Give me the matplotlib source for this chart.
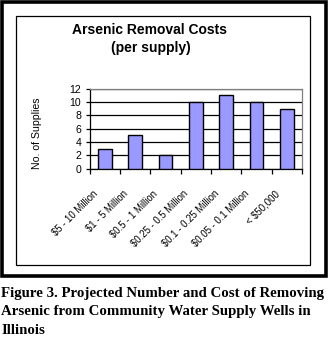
import matplotlib
matplotlib.use("Agg")
import matplotlib.pyplot as plt
from matplotlib.patches import Rectangle
from matplotlib.transforms import ScaledTranslation

categories = ["$5 - 10 Million", "$1 - 5 Million", "$0.5 - 1 Million",
              "$0.25 - 0.5 Million", "$0.1 - 0.25 Million",
              "$0.05 - 0.1 Million", "< $50,000"]
values = [3, 5, 2, 10, 11, 10, 9]
yticks = [0, 2, 4, 6, 8, 10, 12]
title_lines = ["Arsenic Removal Costs", "(per supply)"]
ylabel = "No. of Supplies"
caption_lines = ["Figure 3. Projected Number and Cost of Removing",
                 "Arsenic from Community Water Supply Wells in",
                 "Illinois"]

W, H = 328, 339
DPI = 100
fig = plt.figure(figsize=(W / DPI, H / DPI), dpi=DPI)
fig.patch.set_facecolor("white")

def fx(px):
    return px / W

def fy(py):
    return 1 - py / H

# outer frame (black, thick)
fig.add_artist(Rectangle((fx(1.5), fy(276)), fx(324), 274.5 / H,
                         transform=fig.transFigure, fill=False,
                         edgecolor="black", linewidth=2.6))
# inner chart-area frame
fig.add_artist(Rectangle((fx(15.5), fy(264.5)), fx(294.5), 249 / H,
                         transform=fig.transFigure, fill=False,
                         edgecolor="black", linewidth=0.9))

# axes
ax_l, ax_r, ax_t, ax_b = 89.5, 302, 88.7, 168.7
ax = fig.add_axes([fx(ax_l), fy(ax_b), fx(ax_r - ax_l), (ax_b - ax_t) / H])
x = list(range(len(categories)))
ax.bar(x, values, width=0.45, color="#9999FF", edgecolor="black",
       linewidth=1.0, zorder=3)
ax.set_xlim(-0.5, len(categories) - 0.5)
ax.set_ylim(0, 12)
ax.set_yticks(yticks)
ax.yaxis.grid(True, color="black", linewidth=0.9, zorder=0)
ax.set_axisbelow(True)
ax.spines["top"].set_color("#808080")
ax.spines["right"].set_color("#808080")
ax.spines["left"].set_color("black")
ax.spines["bottom"].set_color("black")
for s in ax.spines.values():
    s.set_linewidth(0.9)

# y ticks
ax.tick_params(axis="y", direction="out", length=3, width=0.9,
               labelsize=7.6, pad=3, colors="black")
for lab in ax.get_yticklabels():
    lab.set_fontfamily("Liberation Sans")

# x ticks at category boundaries (minor), labels at centres
ax.set_xticks([i - 0.5 for i in range(len(categories) + 1)], minor=True)
ax.tick_params(axis="x", which="minor", direction="out", length=3.5,
               width=0.9)
ax.set_xticks(x)
ax.set_xticklabels(categories, rotation=45, ha="right", va="center",
                   rotation_mode="anchor", fontsize=6.9,
                   fontfamily="Liberation Sans")
ax.tick_params(axis="x", which="major", length=0, pad=17)
off = ScaledTranslation(-9 / DPI, 0, fig.dpi_scale_trans)
for lab in ax.get_xticklabels():
    lab.set_transform(lab.get_transform() + off)

ax.set_ylabel(ylabel, fontsize=7.6, fontfamily="Liberation Sans")
ax.yaxis.set_label_coords(fx(42), fy(133), transform=fig.transFigure)

# title
fig.text(fx(150), fy(34), title_lines[0], ha="center", va="baseline",
         fontsize=10, fontweight="bold", fontfamily="Liberation Sans")
fig.text(fx(151), fy(52), title_lines[1], ha="center", va="baseline",
         fontsize=10, fontweight="bold", fontfamily="Liberation Sans")

# caption
for i, line in enumerate(caption_lines):
    fig.text(fx(1), fy(296.5 + 18.7 * i), line, ha="left", va="baseline",
             fontsize=10.7, fontweight="bold", fontfamily="Liberation Serif")

fig.savefig("out.png", dpi=DPI, facecolor="white")
